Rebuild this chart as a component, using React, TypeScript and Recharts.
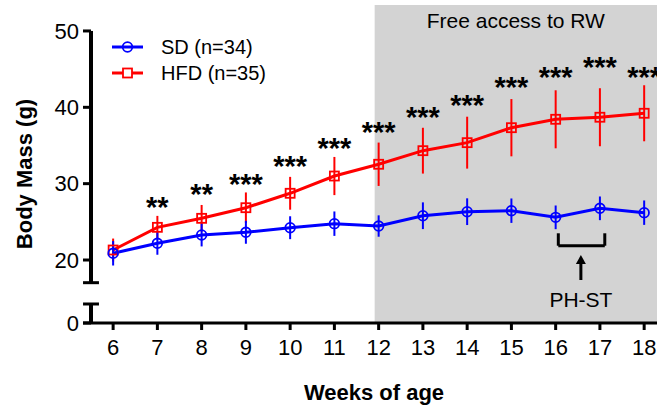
import {
  ErrorBar,
  LabelList,
  Line,
  LineChart,
  ReferenceArea,
  ReferenceDot,
  ReferenceLine,
  XAxis,
  YAxis,
} from "recharts";

const weeks = [6, 7, 8, 9, 10, 11, 12, 13, 14, 15, 16, 17, 18];
const sdMean = [20.88, 22.19, 23.28, 23.63, 24.23, 24.76, 24.45, 25.8, 26.33, 26.46, 25.59, 26.77, 26.2];
const sdErr = [1.6, 1.5, 1.5, 1.5, 1.5, 1.6, 1.4, 1.75, 1.75, 1.6, 1.55, 1.55, 1.6];
const hfdMean = [21.31, 24.28, 25.46, 26.85, 28.74, 31.0, 32.54, 34.32, 35.37, 37.33, 38.43, 38.7, 39.22];
const hfdErr = [1.5, 1.5, 1.75, 2.0, 2.15, 2.5, 2.84, 3.0, 3.4, 3.75, 3.8, 3.8, 3.67];
const stars = ["", "**", "**", "***", "***", "***", "***", "***", "***", "***", "***", "***", "***"];
const starLevel = [null, 27.73, 29.39, 30.78, 33.1, 35.5, 37.56, 39.52, 41.05, 43.45, 44.76, 46.07, 44.76];
const yTicks = [20, 30, 40, 50];

// broken y axis: the "0" tick sits at this value of the linear scale
const ZERO_AT = 11.75;
const Y_TOP = 53.4;
const X_MIN = 5.5;
const X_MAX = 18.29;
const RW_START = 11.91;

const FONT = "'Liberation Sans', Arial, sans-serif";
const BLUE = "#0000ff";
const RED = "#ff0000";

const data = weeks.map((week, i) => ({
  week,
  sd: sdMean[i],
  sdErr: sdErr[i],
  hfd: hfdMean[i],
  hfdErr: hfdErr[i],
  stars: stars[i],
  starLevel: starLevel[i],
}));

const Circle = (props: any) => {
  const { cx, cy } = props;
  if (cx == null || cy == null) return null;
  return <circle cx={cx} cy={cy} r={4.8} fill="none" stroke={BLUE} strokeWidth={1.8} />;
};

const Square = (props: any) => {
  const { cx, cy } = props;
  if (cx == null || cy == null) return null;
  return <rect x={cx - 4.5} y={cy - 4.5} width={9} height={9} fill="none" stroke={RED} strokeWidth={1.8} />;
};

const Stars = (props: any) => {
  const { x, y, value } = props;
  if (!value || y == null) return null;
  return (
    <text x={x} y={y + 16} textAnchor="middle" fontSize={29} fontWeight="bold" fontFamily={FONT} fill="#000">
      {value}
    </text>
  );
};

const Arrow = (props: any) => {
  const { x1, y1, x2, y2 } = props;
  return (
    <g>
      <line x1={x1} y1={y1} x2={x2} y2={y2 + 7} stroke="#000" strokeWidth={3} />
      <polygon points={`${x2},${y2} ${x2 - 5},${y2 + 9} ${x2 + 5},${y2 + 9}`} fill="#000" />
    </g>
  );
};

const YTitle = (props: any) => {
  const { viewBox } = props;
  const cx = viewBox.x + 32;
  const cy = viewBox.y + viewBox.height / 2 + 10;
  return (
    <text
      x={cx}
      y={cy}
      transform={`rotate(-90 ${cx} ${cy})`}
      textAnchor="middle"
      fontSize={22}
      fontWeight="bold"
      fontFamily={FONT}
      fill="#000"
    >
      Body Mass (g)
    </text>
  );
};

const legendItems = [
  { name: "SD (n=34)", color: BLUE, shape: "circle" },
  { name: "HFD (n=35)", color: RED, shape: "square" },
];

export default function App() {
  return (
    <div style={{ position: "absolute", left: 0, top: 0, width: 657, height: 407, fontFamily: FONT }}>
      <LineChart width={657} height={407} data={data} margin={{ top: 5, right: 0, left: 0, bottom: 0 }}>
        <ReferenceArea
          x1={RW_START}
          x2={X_MAX}
          y1={ZERO_AT}
          y2={Y_TOP}
          fill="#d3d3d3"
          fillOpacity={1}
          stroke="none"
          ifOverflow="visible"
          label={{ value: "Free access to RW", position: "insideTop", offset: 8, fontSize: 21, fill: "#000", fontFamily: FONT }}
        />
        <XAxis
          dataKey="week"
          type="number"
          domain={[X_MIN, X_MAX]}
          ticks={weeks}
          allowDataOverflow
          height={84}
          axisLine={false}
          tickSize={7}
          tickMargin={9}
          tickLine={{ stroke: "#000", strokeWidth: 3 }}
          tick={{ fontSize: 22, fill: "#000", fontFamily: FONT }}
          label={{ value: "Weeks of age", position: "insideBottom", offset: 7, fontSize: 22, fontWeight: "bold", fill: "#000", fontFamily: FONT }}
        />
        <YAxis
          type="number"
          domain={[ZERO_AT, Y_TOP]}
          ticks={[ZERO_AT, ...yTicks]}
          tickFormatter={(v: number) => (v === ZERO_AT ? "0" : String(v))}
          allowDataOverflow
          width={91}
          axisLine={false}
          tickSize={8}
          tickMargin={4}
          tickLine={{ stroke: "#000", strokeWidth: 3 }}
          tick={{ fontSize: 22, fill: "#000", fontFamily: FONT }}
          label={<YTitle />}
        />
        {/* axis lines with the break */}
        <ReferenceLine segment={[{ x: 5.32, y: ZERO_AT }, { x: X_MAX, y: ZERO_AT }]} stroke="#000" strokeWidth={3} ifOverflow="visible" />
        <ReferenceLine segment={[{ x: X_MIN, y: 17.03 }, { x: X_MIN, y: 50 }]} stroke="#000" strokeWidth={4} ifOverflow="visible" />
        <ReferenceLine segment={[{ x: X_MIN, y: ZERO_AT }, { x: X_MIN, y: 14.24 }]} stroke="#000" strokeWidth={4} ifOverflow="visible" />
        <ReferenceLine segment={[{ x: 5.32, y: 17.03 }, { x: 5.68, y: 17.03 }]} stroke="#000" strokeWidth={3} ifOverflow="visible" />
        <ReferenceLine segment={[{ x: 5.32, y: 14.24 }, { x: 5.68, y: 14.24 }]} stroke="#000" strokeWidth={3} ifOverflow="visible" />
        {/* PH-ST bracket and arrow */}
        <ReferenceLine segment={[{ x: 16.06, y: 23.5 }, { x: 16.06, y: 21.87 }]} stroke="#000" strokeWidth={3} ifOverflow="visible" />
        <ReferenceLine segment={[{ x: 17.11, y: 23.5 }, { x: 17.11, y: 21.87 }]} stroke="#000" strokeWidth={3} ifOverflow="visible" />
        <ReferenceLine segment={[{ x: 16.06, y: 21.87 }, { x: 17.11, y: 21.87 }]} stroke="#000" strokeWidth={3} ifOverflow="visible" />
        <ReferenceLine segment={[{ x: 16.57, y: 17.38 }, { x: 16.57, y: 20.66 }]} shape={<Arrow />} ifOverflow="visible" />
        <ReferenceDot
          x={16.57}
          y={14.79}
          r={1}
          fill="none"
          stroke="none"
          ifOverflow="visible"
          label={{ value: "PH-ST", position: "center", fontSize: 21, fill: "#000", fontFamily: FONT }}
        />
        <Line
          dataKey="hfd"
          stroke={RED}
          strokeWidth={3}
          dot={<Square />}
          activeDot={false}
          isAnimationActive={false}
        >
          <ErrorBar dataKey="hfdErr" width={0} stroke={RED} strokeWidth={2} />
        </Line>
        <Line
          dataKey="sd"
          stroke={BLUE}
          strokeWidth={3}
          dot={<Circle />}
          activeDot={false}
          isAnimationActive={false}
        >
          <ErrorBar dataKey="sdErr" width={0} stroke={BLUE} strokeWidth={2} />
        </Line>
        <Line
          dataKey="starLevel"
          stroke="none"
          dot={false}
          activeDot={false}
          legendType="none"
          isAnimationActive={false}
        >
          <LabelList dataKey="stars" content={<Stars />} />
        </Line>
      </LineChart>
      {legendItems.map((item, i) => (
        <div
          key={item.name}
          style={{ position: "absolute", left: 112, top: 47 + i * 26 - 10, height: 20, display: "flex", alignItems: "center" }}
        >
          <svg width={32} height={20}>
            <line x1={0} y1={10} x2={31} y2={10} stroke={item.color} strokeWidth={3} />
            {item.shape === "circle" ? (
              <circle cx={15.5} cy={10} r={4.8} fill="none" stroke={item.color} strokeWidth={1.8} />
            ) : (
              <rect x={11} y={5.5} width={9} height={9} fill="#fff" stroke={item.color} strokeWidth={1.8} />
            )}
          </svg>
          <span style={{ marginLeft: 17, fontSize: 20, lineHeight: "20px", color: "#000" }}>{item.name}</span>
        </div>
      ))}
    </div>
  );
}
